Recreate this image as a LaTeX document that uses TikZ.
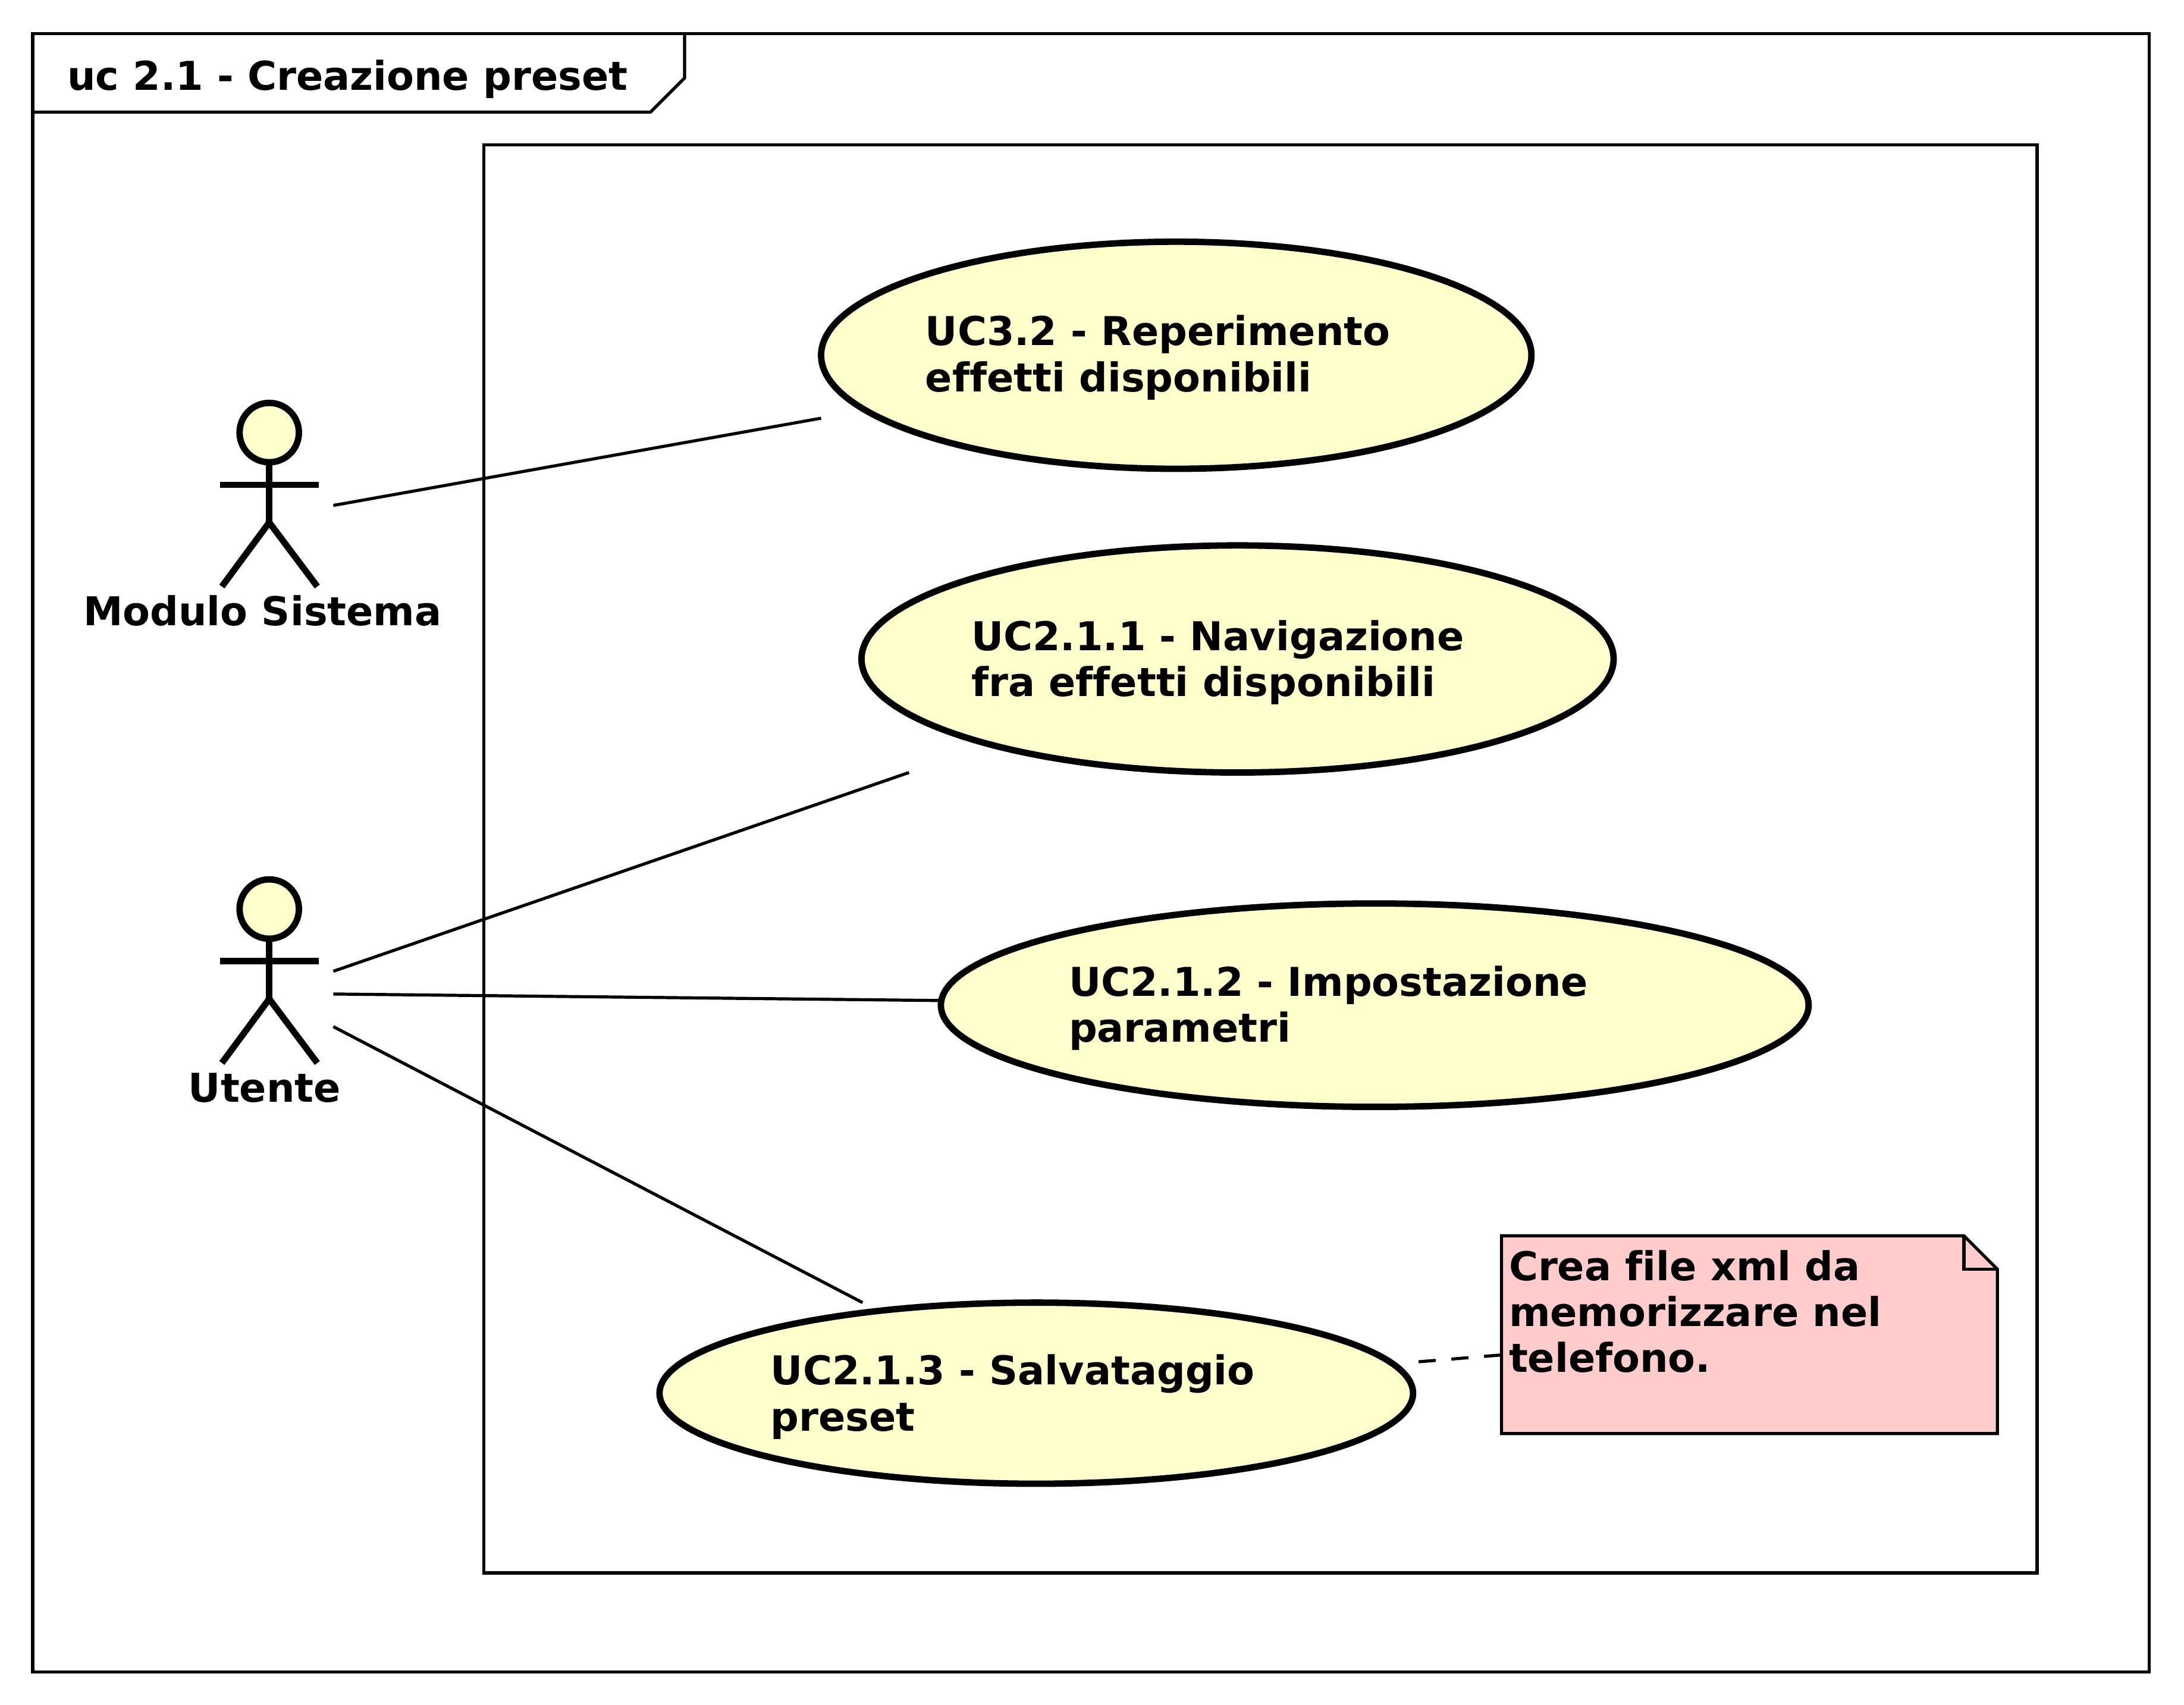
\documentclass[tikz,border=0pt]{standalone}
\usepackage{fontspec}
\setmainfont[Ligatures=CommonOff]{DejaVu Sans}
\usetikzlibrary{shapes.geometric,calc}
\definecolor{ucfill}{HTML}{FFFFCC}
\definecolor{notefill}{HTML}{FFCCCC}
\tikzset{
  thinline/.style={line width=1.3pt,draw=black},
  thickline/.style={line width=2.7pt,draw=black},
  label text/.style={font=\bfseries\fontsize{16.7}{19.3}\selectfont,inner sep=0pt,align=left,anchor=base west},
  centre text/.style={font=\bfseries\fontsize{16.7}{19.3}\selectfont,inner sep=0pt,anchor=base},
  ucshape/.style={ellipse,thickline,fill=ucfill,inner sep=0pt},
  bbox/.style={rectangle,inner sep=0pt,outer sep=0pt},
  assoc/.style={thinline},
  notelink/.style={thinline,dash pattern=on 7.2pt off 6.6pt,dash phase=11.45pt},
}
\newcommand{\ucase}[8]{% name cx cy w h tx last-baseline text
  \node[ucshape,minimum width=#4*0.5855pt,minimum height=#5*0.5855pt] (#1shape) at (#2,#3) {};
  \node[bbox,minimum width=#4*0.5855pt,minimum height=#5*0.5855pt] (#1) at (#2,#3) {};
  \node[label text] (#1text) at (#6,#7) {#8};
}
\newcommand{\umlactor}[5]{% name cx top labelx text
  \node[bbox,minimum width=92*0.5855pt,minimum height=164*0.5855pt] (#1) at (#2,#3+82) {};
  \draw[thickline,fill=ucfill] (#2,#3+21.5) circle[radius=21.3*0.5855pt];
  \draw[thickline] (#2,#3+43) -- (#2,#3+86);
  \draw[thickline] (#2-35.5,#3+59) -- (#2+35.5,#3+59);
  \draw[thickline] (#2-34,#3+132) -- (#2,#3+86) -- (#2+34.5,#3+132);
  \node[centre text] (#1label) at (#4,#3+160) {#5};
}
\begin{document}
\begin{tikzpicture}[x=0.5855pt,y=-0.5855pt]
\useasboundingbox (0,0) rectangle (1568,1223.8);
% frame
\draw[thinline] (23.5,24) rectangle (1543,1200);
\draw[thinline] (23.5,80.5) -- (467,80.5) -- (491.5,56) -- (491.5,24);
\node[label text] (title) at (48,64.5) {uc 2.1 - Creazione preset};
% system boundary
\draw[thinline] (347.5,104) rectangle (1462.5,1129);
% actors
\umlactor{modulo}{193.3}{289}{188.5}{Modulo Sistema}
\umlactor{utente}{193.3}{631}{190}{Utente}
% use cases
\ucase{ucA}{844.5}{255}{510}{163}{664}{281}{UC3.2 - Reperimento\\effetti disponibili}
\ucase{ucB}{888.5}{473}{540}{163}{697}{500}{UC2.1.1 - Navigazione\\fra effetti disponibili}
\ucase{ucC}{987}{721.5}{623}{146}{767}{748}{UC2.1.2 - Impostazione\\parametri}
\ucase{ucD}{744}{1000}{541}{130}{553}{1027}{UC2.1.3 - Salvataggio\\preset}
% note
\node[bbox,minimum width=356*0.5855pt,minimum height=142*0.5855pt] (note) at (1256,958) {};
\draw[thinline,fill=notefill] (note.north west) -- (1410,887) -- (note.north east |- 0,911) -- (note.south east) -- (note.south west) -- cycle;
\draw[thinline] (1410,887) -- (1410,911) -- (1434,911);
\node[label text] (notetext) at (1083,985) {Crea file xml da\\memorizzare nel\\telefono.};
% connectors
\draw[assoc] (modulo) -- (ucA);
\draw[assoc] (utente) -- (ucB);
\draw[assoc] (utente) -- (ucC);
\draw[assoc] (utente) -- (ucD);
\draw[notelink] (ucD) -- (note);
\end{tikzpicture}
\end{document}
